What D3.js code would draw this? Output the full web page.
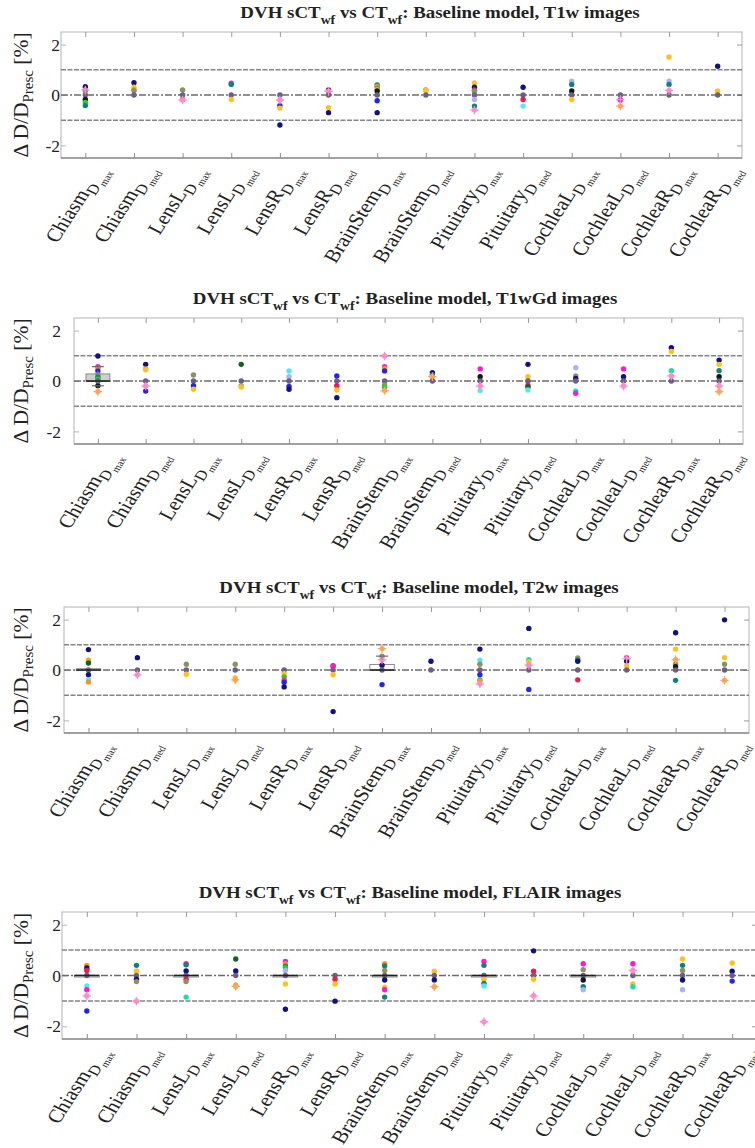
<!DOCTYPE html>
<html>
<head>
<meta charset="utf-8">
<script src="https://cdn.jsdelivr.net/npm/d3@7"></script>
<style>
  html, body { margin: 0; padding: 0; background: #fff; }
  svg { display: block; }
  text { font-family: "Liberation Serif", "Times New Roman", serif; fill: #222; }
</style>
</head>
<body>
<script>
// Organs at risk and the dose metric evaluated for each one
const structures = ["Chiasm", "Chiasm", "LensL", "LensL", "LensR", "LensR", "BrainStem", "BrainStem",
                    "Pituitary", "Pituitary", "CochleaL", "CochleaL", "CochleaR", "CochleaR"];
const metrics = ["max", "med", "max", "med", "max", "med", "max", "med", "max", "med", "max", "med", "max", "med"];

// MR input sequence of each panel
const sequences = ["T1w", "T1wGd", "T2w", "FLAIR"];

// Y axis ticks and tolerance lines (percent of prescribed dose)
const yTicks = [-2, 0, 2];
const toleranceLines = [-1, 1];

// Patient colour set (one colour per patient)
const patientColors = ["#12127e", "#2424f2", "#161616", "#12807f", "#14621a", "#24d024", "#ffc21a",
                       "#ffa458", "#ff8ccc", "#ff18cc", "#f2184a", "#58e6f2", "#a8b2ff", "#8c9262",
                       "#6e5f82", "#16e0a2", "#ff9418"];
// Patients drawn with a plus marker on top of the dot
const plusPatients = [7, 8];

// Dose differences per structure: [ΔD/D_presc in %, patient]
const t1wPoints = [
  [[0.33,0],[0.2,8],[0.17,13],[0,14],[-0.18,2],[-0.3,5],[-0.42,3]],
  [[0.49,0],[0.31,6],[0.2,16],[0.18,13],[0,14]],
  [[0.2,13],[0,14],[-0.18,10],[-0.2,8]],
  [[0.47,9],[0.42,3],[0,14],[-0.18,6]],
  [[0,14],[-0.2,8],[-0.42,1],[-0.52,6],[-1.19,0]],
  [[0.2,1],[0.16,10],[0.14,8],[0,14],[-0.5,6],[-0.7,0]],
  [[0.4,3],[0.34,16],[0.28,13],[0.2,6],[0.16,2],[0,14],[-0.23,1],[-0.7,0]],
  [[0.2,13],[0.18,6],[0,14]],
  [[0.48,6],[0.31,0],[0.2,10],[0.16,13],[0,14],[-0.18,12],[-0.44,3],[-0.6,8]],
  [[0.31,0],[0,14],[-0.18,10],[-0.44,11]],
  [[0.55,12],[0.42,3],[0.16,2],[0,14],[-0.18,6]],
  [[0,14],[-0.18,8],[-0.2,9],[-0.44,7]],
  [[1.51,6],[0.55,12],[0.42,3],[0.18,8],[0,14]],
  [[1.14,0],[0.16,6],[0,14]]
];
const t1wGdPoints = [
  [[0.99,0],[0.57,9],[0.5,16],[0.4,1],[0.25,13],[0.15,3],[0.07,5],[0,14],[-0.19,2],[-0.42,7]],
  [[0.66,0],[0.48,16],[0.45,6],[0,14],[-0.2,8],[-0.4,1]],
  [[0.24,13],[0,14],[-0.19,1],[-0.33,6]],
  [[0.66,4],[0,14],[-0.2,13],[-0.24,6]],
  [[0.4,11],[0.17,12],[0,14],[-0.22,1],[-0.33,0]],
  [[0.2,1],[0,14],[-0.19,10],[-0.36,6],[-0.66,0]],
  [[0.99,8],[0.57,9],[0.5,16],[0.4,1],[0,14],[-0.16,13],[-0.25,5],[-0.38,7]],
  [[0.33,0],[0.24,3],[0.17,7],[0,14]],
  [[0.48,9],[0.17,2],[0,14],[-0.2,8],[-0.38,11]],
  [[0.66,0],[0.17,6],[0,14],[-0.18,10],[-0.24,4],[-0.36,11]],
  [[0.53,12],[0.2,13],[0.1,0],[0,14],[-0.4,15],[-0.49,9]],
  [[0.48,9],[0.17,0],[0,14],[-0.2,8]],
  [[1.32,0],[1.17,6],[0.41,15],[0.2,8],[0,14]],
  [[0.83,0],[0.66,6],[0.41,3],[0.17,2],[0,14],[-0.2,8],[-0.42,7]]
];
const t2wPoints = [
  [[0.81,0],[0.39,16],[0.33,6],[0.28,4],[0,14],[-0.19,0],[-0.39,11],[-0.48,16]],
  [[0.49,0],[0,14],[-0.19,8]],
  [[0.23,13],[0,14],[-0.17,6]],
  [[0.23,13],[0,14],[-0.32,6],[-0.39,7]],
  [[0,14],[-0.15,6],[-0.28,5],[-0.41,9],[-0.49,1],[-0.67,0]],
  [[0.17,10],[0.14,9],[0,14],[-0.19,6],[-1.65,0]],
  [[0.85,7],[0.55,13],[0.41,8],[0.19,0],[0,14],[-0.58,1]],
  [[0.35,0],[0,14]],
  [[0.83,0],[0.39,11],[0.23,13],[0,14],[-0.19,1],[-0.39,5],[-0.44,16],[-0.55,8]],
  [[1.65,0],[0.41,15],[0.32,6],[0.19,8],[0,14],[-0.77,1]],
  [[0.48,13],[0.39,3],[0.35,0],[0,14],[-0.39,10]],
  [[0.49,9],[0.44,8],[0.35,0],[0.17,6],[0,14]],
  [[1.48,0],[0.83,6],[0.41,7],[0.23,13],[0.13,2],[0,14],[-0.41,3]],
  [[1.99,0],[0.49,6],[0.23,13],[0,14],[-0.41,7]]
];
const flairPoints = [
  [[0.4,16],[0.3,0],[0.2,10],[0,14],[-0.41,11],[-0.56,9],[-0.8,8],[-1.4,1]],
  [[0.4,3],[0.18,6],[0,14],[-0.15,0],[-0.24,13],[-1.01,8]],
  [[0.46,9],[0.42,3],[0.18,0],[0,14],[-0.15,10],[-0.24,13],[-0.85,15]],
  [[0.65,4],[0.18,0],[0,14],[-0.38,16],[-0.43,7]],
  [[0.55,9],[0.46,16],[0.37,3],[0.31,5],[0.2,12],[0,14],[-0.33,6],[-1.33,0]],
  [[0,14],[-0.15,10],[-0.33,6],[-1.01,0]],
  [[0.46,16],[0.38,3],[0.2,13],[0,14],[-0.18,0],[-0.46,6],[-0.56,9],[-0.85,3]],
  [[0.17,6],[0,14],[-0.18,0],[-0.44,7]],
  [[0.55,9],[0.4,3],[0,14],[-0.15,6],[-0.31,3],[-0.41,11],[-1.82,8]],
  [[0.97,0],[0.17,10],[0,14],[-0.15,6],[-0.8,8]],
  [[0.46,9],[0.23,13],[0,14],[-0.18,2],[-0.44,3],[-0.56,12]],
  [[0.46,9],[0.2,8],[0,14],[-0.33,6],[-0.44,15]],
  [[0.65,6],[0.4,3],[0.2,13],[0,14],[-0.18,0],[-0.56,12]],
  [[0.49,6],[0.17,0],[0,14],[-0.22,1]]
];

// Box summaries: [structure index, lower whisker, q1, median, q3, upper whisker]
const t1wBoxes = [];
const t1wGdBoxes = [[0, -0.19, 0, 0.0, 0.28, 0.57]];
const t2wBoxes = [[0, 0, 0, 0.0, 0.05, 0.05], [6, 0, 0, 0.0, 0.22, 0.55]];
const flairBoxes = [[0,0,0,0,0,0],[2,0,0,0,0,0],[4,0,0,0,0,0],[6,0,0,0,0,0],[8,0,0,0,0,0],[10,0,0,0,0,0]];

const panelPoints = [t1wPoints, t1wGdPoints, t2wPoints, flairPoints];
const panelBoxes = [t1wBoxes, t1wGdBoxes, t2wBoxes, flairBoxes];

// Panel frames on the page
const frames = [
  { left: 61, right: 742, top: 32,  bottom: 158, titleCx: 440, boxFill: "#cfcfcf" },
  { left: 74, right: 743, top: 318, bottom: 444, titleCx: 405, boxFill: "#cfcfcf" },
  { left: 64, right: 749, top: 607, bottom: 733, titleCx: 419, boxFill: "#ffffff" },
  { left: 62, right: 757, top: 912, bottom: 1039, titleCx: 410, boxFill: "#ffffff" }
];
// Text in this figure is set slightly wide
const textStretch = 1.14;

const W = 755, H = 1148;
const svg = d3.select("body").append("svg").attr("width", W).attr("height", H);

frames.forEach((f, pi) => {
  const g = svg.append("g");
  const x = d3.scaleLinear().domain([0.5, structures.length + 0.5]).range([f.left, f.right]);
  const y = d3.scaleLinear().domain([-2.5, 2.5]).range([f.bottom, f.top]);
  const step = x(2) - x(1);

  // title with subscripts
  const title = g.append("text")
    .attr("transform", `translate(${f.titleCx},${f.top - 14}) scale(${textStretch},1)`)
    .attr("text-anchor", "middle")
    .attr("font-size", 16.6).attr("font-weight", "bold").attr("fill", "#111");
  title.append("tspan").text("DVH sCT");
  title.append("tspan").attr("font-size", 12).attr("dy", 6).text("wf");
  title.append("tspan").attr("dy", -6).text(" vs CT");
  title.append("tspan").attr("font-size", 12).attr("dy", 6).text("wf");
  title.append("tspan").attr("dy", -6).text(": Baseline model, " + sequences[pi] + " images");

  // frame
  g.append("rect").attr("x", f.left).attr("y", f.top)
    .attr("width", f.right - f.left).attr("height", f.bottom - f.top)
    .attr("fill", "none").attr("stroke", "#b4b4b4").attr("stroke-width", 1);
  g.append("line").attr("x1", f.left).attr("x2", f.right).attr("y1", f.bottom).attr("y2", f.bottom)
    .attr("stroke", "#8e8e8e").attr("stroke-width", 1.6);

  const idx = d3.range(1, structures.length + 1);
  // inward ticks on all four sides
  g.append("g").attr("transform", `translate(0,${f.bottom})`)
    .call(d3.axisBottom(x).tickValues(idx).tickSizeInner(-5).tickSizeOuter(0).tickFormat(""))
    .call(a => a.select(".domain").remove())
    .call(a => a.selectAll("line").attr("stroke", "#8e8e8e"));
  g.append("g").attr("transform", `translate(0,${f.top})`)
    .call(d3.axisTop(x).tickValues(idx).tickSizeInner(-5).tickSizeOuter(0).tickFormat(""))
    .call(a => a.select(".domain").remove())
    .call(a => a.selectAll("line").attr("stroke", "#9a9a9a"));
  g.append("g").attr("transform", `translate(${f.right},0)`)
    .call(d3.axisRight(y).tickValues(yTicks).tickSizeInner(-5).tickSizeOuter(0).tickFormat(""))
    .call(a => a.select(".domain").remove())
    .call(a => a.selectAll("line").attr("stroke", "#9a9a9a"));
  g.append("g").attr("transform", `translate(${f.left},0)`)
    .call(d3.axisLeft(y).tickValues(yTicks).tickSizeInner(-5).tickSizeOuter(0)
      .tickPadding(Math.max(f.left - 61, 1)).tickFormat(d => d))
    .call(a => a.select(".domain").remove())
    .call(a => a.selectAll("line").attr("stroke", "#b4b4b4"))
    .call(a => a.selectAll("text").attr("font-size", 17.5).attr("fill", "#333")
      .attr("font-family", "Liberation Serif, serif"));

  // y label
  const yl = g.append("text")
    .attr("transform", `translate(28,${y(0)}) rotate(-90)`)
    .attr("text-anchor", "middle").attr("font-size", 21.5).attr("fill", "#333");
  yl.append("tspan").text("\u0394 D/D");
  yl.append("tspan").attr("font-size", 15).attr("dy", 5).text("Presc");
  yl.append("tspan").attr("dy", -5).text(" [%]");

  // tolerance and zero lines
  g.selectAll(".tol").data(toleranceLines).join("line")
    .attr("x1", f.left).attr("x2", f.right).attr("y1", d => y(d)).attr("y2", d => y(d))
    .attr("stroke", "#858585").attr("stroke-width", 1.5).attr("stroke-dasharray", "5,1.5");
  g.append("line").attr("x1", f.left).attr("x2", f.right).attr("y1", y(0)).attr("y2", y(0))
    .attr("stroke", "#6c6c6c").attr("stroke-width", 1.7).attr("stroke-dasharray", "7,2,2,2");

  // box bodies
  const boxes = panelBoxes[pi];
  g.selectAll(".boxbody").data(boxes).join("rect")
    .attr("x", d => x(d[0] + 1) - step * 0.25).attr("width", step * 0.5)
    .attr("y", d => y(d[4])).attr("height", d => Math.max(y(d[2]) - y(d[4]), 1.5))
    .attr("fill", f.boxFill).attr("stroke", "#8a8a8a").attr("stroke-width", 1);

  // patients
  const pts = [];
  panelPoints[pi].forEach((arr, ci) => arr.forEach(([v, p]) => pts.push({ ci, v, p })));
  g.selectAll(".pt").data(pts).join("circle")
    .attr("cx", d => x(d.ci + 1)).attr("cy", d => y(d.v)).attr("r", 2.7)
    .attr("fill", d => patientColors[d.p]);
  g.selectAll(".plus").data(pts.filter(d => plusPatients.includes(d.p))).join("path")
    .attr("d", d => {
      const cx = x(d.ci + 1), cy = y(d.v), s = 4.2;
      return `M${cx - s},${cy}H${cx + s}M${cx},${cy - s}V${cy + s}`;
    })
    .attr("stroke", d => patientColors[d.p]).attr("stroke-width", 1.3).attr("fill", "none");

  // whiskers, caps and medians
  boxes.forEach(d => {
    const cx = x(d[0] + 1);
    if (d[5] > d[4]) {
      g.append("line").attr("x1", cx).attr("x2", cx).attr("y1", y(d[4])).attr("y2", y(d[5]))
        .attr("stroke", "#7a7a7a").attr("stroke-width", 1).attr("stroke-dasharray", "3,2");
      g.append("line").attr("x1", cx - step * 0.125).attr("x2", cx + step * 0.125)
        .attr("y1", y(d[5])).attr("y2", y(d[5])).attr("stroke", "#6a6a6a").attr("stroke-width", 1.2);
    }
    if (d[1] < d[2]) {
      g.append("line").attr("x1", cx).attr("x2", cx).attr("y1", y(d[2])).attr("y2", y(d[1]))
        .attr("stroke", "#7a7a7a").attr("stroke-width", 1).attr("stroke-dasharray", "3,2");
      g.append("line").attr("x1", cx - step * 0.125).attr("x2", cx + step * 0.125)
        .attr("y1", y(d[1])).attr("y2", y(d[1])).attr("stroke", "#6a6a6a").attr("stroke-width", 1.2);
    }
    g.append("line").attr("x1", cx - step * 0.25).attr("x2", cx + step * 0.25)
      .attr("y1", y(d[3])).attr("y2", y(d[3])).attr("stroke", "#222").attr("stroke-width", 1.6);
  });

  // rotated category labels: Structure_{D_{metric}}
  const labels = g.selectAll(".xl").data(structures).join("text")
    .attr("transform", (d, i) =>
      `translate(${x(i + 1) + 21},${f.bottom + 11}) scale(${textStretch},1) rotate(-60)`)
    .attr("text-anchor", "end").attr("font-size", 19).attr("fill", "#333");
  labels.append("tspan").text(d => d);
  labels.append("tspan").attr("font-size", 14.5).attr("dy", 5).text("D");
  labels.append("tspan").attr("font-size", 9.5).attr("dy", 3).text((d, i) => "\u2009" + metrics[i]);
});
</script>
</body>
</html>
